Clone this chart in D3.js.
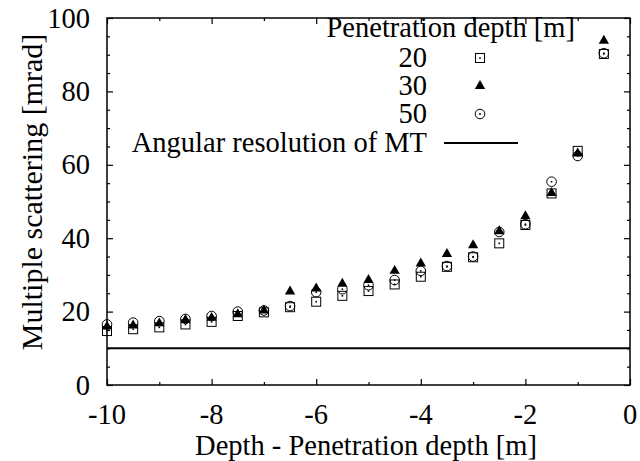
<!DOCTYPE html>
<html>
<head>
<meta charset="utf-8">
<script src="https://cdn.jsdelivr.net/npm/d3@7"></script>
<style>
body{margin:0;background:#fff;}
text{font-family:"Liberation Serif","DejaVu Serif",serif;fill:#000;font-size:28.5px;}
.axis path{display:none;}
.axis line{stroke:#000;stroke-width:1.2;}
</style>
</head>
<body>
<svg id="svg" width="640" height="461"></svg>
<script>
var depth=[-10,-9.5,-9,-8.5,-8,-7.5,-7,-6.5,-6,-5.5,-5,-4.5,-4,-3.5,-3,-2.5,-2,-1.5,-1,-0.5];
var pen20=[14.7,15.2,15.7,16.5,17.2,18.8,19.8,21.2,22.7,24.3,25.6,27.4,29.5,32.2,34.8,38.6,43.6,52.2,63.8,90.2];
var pen30=[15.9,16.2,16.8,17.7,18.3,19.3,20.3,25.5,26.3,27.6,28.6,31.1,33.1,35.7,38.1,41.9,46.0,52.3,63.1,93.8];
var pen50=[16.5,17.0,17.4,18.0,18.8,20.0,20.3,21.5,25.3,26.1,27.2,28.6,31.1,32.4,35.0,41.7,43.8,55.4,62.4,90.4];
var resolution=10;
var xMajor=[-10,-8,-6,-4,-2,0];
var xMinor=[-9,-7,-5,-3,-1];
var yMajor=[0,20,40,60,80,100];
var yMinor=[5,10,15,25,30,35,45,50,55,65,70,75,85,90,95];
var legendTitle="Penetration depth [m]";
var seriesNames=["20","30","50"];

var pl=107,pr=630,pt=18,pb=385;
var svg=d3.select("#svg");
var x=d3.scaleLinear().domain([-10,0]).range([pl,pr]);
var y=d3.scaleLinear().domain([0,100]).range([pb,pt]);

// ticks, pointing inward on all four sides
function ticks(axis,vals,size,tr){
  svg.append("g").attr("class","axis").attr("transform",tr)
    .call(axis.tickValues(vals).tickSizeInner(size).tickSizeOuter(0).tickFormat(""));
}
ticks(d3.axisBottom(x),xMajor,-6,"translate(0,"+pb+")");
ticks(d3.axisBottom(x),xMinor,-3,"translate(0,"+pb+")");
ticks(d3.axisTop(x),xMajor,-6,"translate(0,"+pt+")");
ticks(d3.axisTop(x),xMinor,-3,"translate(0,"+pt+")");
ticks(d3.axisLeft(y),yMajor,-6,"translate("+pl+",0)");
ticks(d3.axisLeft(y),yMinor,-3,"translate("+pl+",0)");
ticks(d3.axisRight(y),yMajor,-6,"translate("+pr+",0)");
ticks(d3.axisRight(y),yMinor,-3,"translate("+pr+",0)");

svg.append("rect").attr("x",pl).attr("y",pt)
  .attr("width",pr-pl).attr("height",pb-pt)
  .attr("fill","none").attr("stroke","#000").attr("stroke-width",1.5);

// tick labels
svg.selectAll(".xl").data(xMajor).enter().append("text")
  .attr("x",d=>x(d)).attr("y",424).attr("text-anchor","middle").text(d=>d);
svg.selectAll(".yl").data(yMajor).enter().append("text")
  .attr("x",90).attr("y",d=>y(d)+9.5).attr("text-anchor","end").text(d=>d);

svg.append("text").attr("x",366).attr("y",455).attr("text-anchor","middle")
  .text("Depth - Penetration depth [m]");
svg.append("text").attr("transform","translate(42,192) rotate(-90)")
  .attr("text-anchor","middle").style("font-size","30px").text("Multiple scattering [mrad]");

// resolution line
svg.append("line").attr("x1",pl).attr("x2",pr)
  .attr("y1",y(resolution)).attr("y2",y(resolution))
  .attr("stroke","#000").attr("stroke-width",2);

// markers
function square(g){
  g.append("rect").attr("x",-4.5).attr("y",-4.5).attr("width",9).attr("height",9)
    .attr("fill","none").attr("stroke","#000").attr("stroke-width",1);
  g.append("rect").attr("x",-0.8).attr("y",-0.8).attr("width",1.6).attr("height",1.6).attr("fill","#000");
}
function triangle(g){
  g.append("path").attr("d",d3.symbol(d3.symbolTriangle,46)()).attr("fill","#000");
}
function circle(g){
  g.append("circle").attr("r",4.8).attr("fill","none").attr("stroke","#000").attr("stroke-width",1);
  g.append("circle").attr("r",0.9).attr("fill","#000");
}
var series=[pen20,pen30,pen50];
var drawers=[square,triangle,circle];
series.forEach((vals,k)=>{
  svg.selectAll(".m"+k).data(depth).enter().append("g")
    .attr("transform",(d,i)=>"translate("+x(d)+","+y(vals[i])+")")
    .each(function(){drawers[k](d3.select(this));});
});

// legend
svg.append("text").attr("x",575).attr("y",37).attr("text-anchor","end").text(legendTitle);
var legY=[58,86,114];
seriesNames.forEach((n,k)=>{
  svg.append("text").attr("x",427).attr("y",legY[k]+9).attr("text-anchor","end").text(n);
  var g=svg.append("g").attr("transform","translate(480,"+legY[k]+")");
  drawers[k](g);
});
svg.append("text").attr("x",427).attr("y",152).attr("text-anchor","end")
  .text("Angular resolution of MT");
svg.append("line").attr("x1",444).attr("x2",518).attr("y1",143).attr("y2",143)
  .attr("stroke","#000").attr("stroke-width",2);
</script>
</body>
</html>
